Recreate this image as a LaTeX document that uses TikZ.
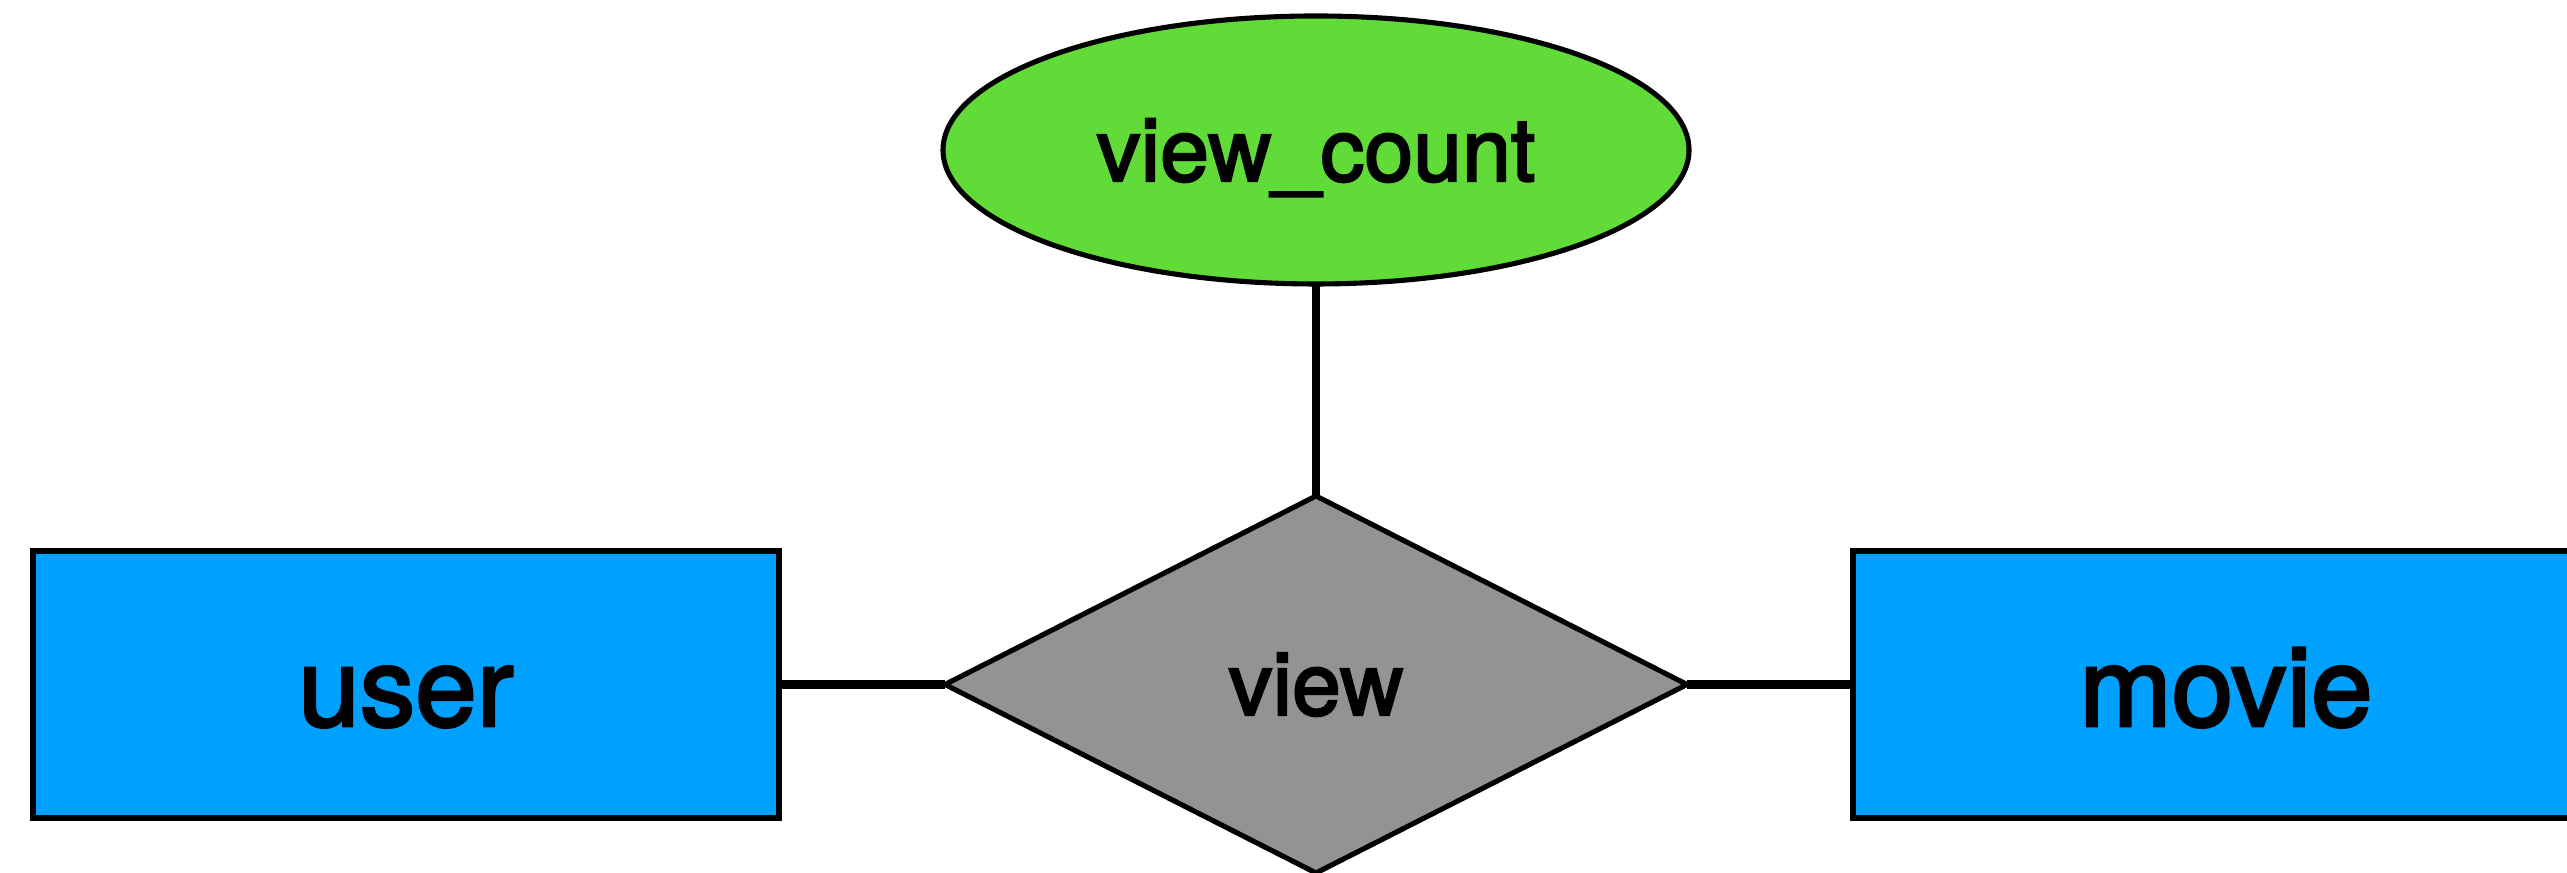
\documentclass[tikz,border=0pt]{standalone}
\usepackage{fontspec}
\setmainfont{TeX Gyre Heros}[FakeBold=2.5]
\usetikzlibrary{shapes.geometric}
\definecolor{entityblue}{RGB}{0,160,255}
\definecolor{attrgreen}{RGB}{96,219,55}
\definecolor{relgray}{RGB}{147,147,147}
\tikzstyle{entity} = [rectangle, minimum width=7.46cm, minimum height=2.67cm, inner sep=0pt, outer sep=0pt, text height=0.83cm, text depth=0pt, text centered, draw=black, line width=1.45pt, fill=entityblue, font=\fontsize{31.5}{34}\selectfont]
\tikzstyle{relation} = [diamond, minimum width=7.42cm, minimum height=3.77cm, inner sep=0pt, outer sep=0pt, text height=0.61cm, text depth=0pt, text centered, draw=black, line width=1.45pt, fill=relgray, font=\fontsize{25}{28}\selectfont]
\tikzstyle{attribute} = [ellipse, minimum width=7.46cm, minimum height=2.68cm, inner sep=0pt, outer sep=0pt, text height=0.62cm, text depth=0pt, text centered, draw=black, line width=1.45pt, fill=attrgreen, font=\fontsize{25}{28}\selectfont]
\tikzstyle{link} = [line width=2.3pt]

\begin{document}
\begin{tikzpicture}[node distance=2cm]
        \useasboundingbox (0,0) rectangle (25.67,8.73);
        \node (view) [relation] at (13.16,1.885) {view};
        \node (user) [entity, left of=view, xshift=-7.1cm] {user};
        \node (movie) [entity, right of=view, xshift=7.1cm] {movie};
        \node (count) [attribute, above of=view, yshift=3.345cm] {view\_count};

        \draw [link] (user) -- (view);
        \draw [link] (view) -- (movie);
        \draw [link] (count) -- (view);
        \end{tikzpicture}
\end{document}
